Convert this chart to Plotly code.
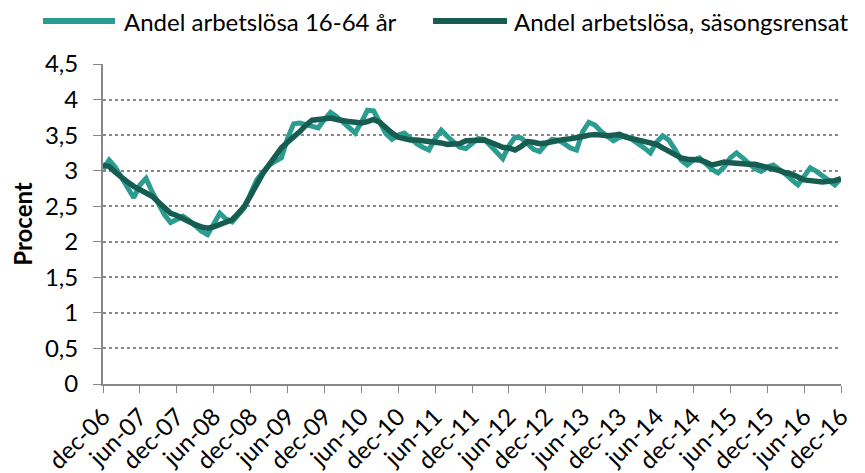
import plotly.graph_objects as go

# Monthly data dec-06 .. dec-16 (index 0..120)
raw_share = [
    3.02, 3.15, 3.05, 2.90, 2.75, 2.62, 2.80, 2.89, 2.70, 2.52,
    2.38, 2.27, 2.32, 2.36, 2.30, 2.22, 2.15, 2.10, 2.25, 2.40,
    2.32, 2.28, 2.38, 2.48, 2.68, 2.87, 2.98, 3.08, 3.13, 3.18,
    3.45, 3.66, 3.67, 3.65, 3.62, 3.60, 3.72, 3.82, 3.76, 3.69,
    3.60, 3.53, 3.68, 3.85, 3.84, 3.68, 3.52, 3.44, 3.50, 3.53,
    3.45, 3.38, 3.33, 3.29, 3.45, 3.57, 3.48, 3.40, 3.33, 3.31,
    3.38, 3.45, 3.44, 3.35, 3.25, 3.17, 3.35, 3.47, 3.46, 3.38,
    3.30, 3.27, 3.37, 3.44, 3.43, 3.38, 3.32, 3.29, 3.55, 3.68,
    3.64, 3.55, 3.48, 3.42, 3.47, 3.49, 3.44, 3.39, 3.32, 3.25,
    3.40, 3.49, 3.43, 3.30, 3.15, 3.08, 3.15, 3.18, 3.10, 3.02,
    2.97, 3.05, 3.18, 3.25, 3.18, 3.10, 3.03, 2.99, 3.05, 3.08,
    3.02, 2.95, 2.87, 2.80, 2.92, 3.04, 2.99, 2.92, 2.85, 2.80,
    2.89,
]
sa_share = [
    3.08, 3.06, 2.98, 2.90, 2.84, 2.78, 2.73, 2.70, 2.64, 2.56,
    2.48, 2.40, 2.37, 2.32, 2.27, 2.24, 2.21, 2.19, 2.21, 2.24,
    2.27, 2.31, 2.40, 2.50, 2.65, 2.82, 2.96, 3.08, 3.20, 3.32,
    3.40, 3.47, 3.55, 3.64, 3.71, 3.72, 3.73, 3.74, 3.72, 3.70,
    3.69, 3.68, 3.67, 3.69, 3.72, 3.68, 3.60, 3.53, 3.47, 3.44,
    3.43, 3.43, 3.42, 3.42, 3.41, 3.39, 3.37, 3.37, 3.38, 3.42,
    3.42, 3.43, 3.43, 3.40, 3.36, 3.33, 3.32, 3.29, 3.34, 3.41,
    3.40, 3.38, 3.39, 3.41, 3.43, 3.44, 3.45, 3.46, 3.48, 3.50,
    3.51, 3.50, 3.49, 3.50, 3.51, 3.47, 3.45, 3.44, 3.42, 3.40,
    3.37, 3.32, 3.27, 3.22, 3.18, 3.16, 3.15, 3.15, 3.12, 3.08,
    3.10, 3.12, 3.11, 3.10, 3.09, 3.09, 3.09, 3.07, 3.04, 3.03,
    3.00, 2.97, 2.95, 2.91, 2.87, 2.86, 2.85, 2.84, 2.85, 2.86,
    2.89,
]
series_names = ["Andel arbetslösa 16-64 år", "Andel arbetslösa, säsongsrensat"]
tick_labels = ["dec-06", "jun-07", "dec-07", "jun-08", "dec-08", "jun-09", "dec-09",
               "jun-10", "dec-10", "jun-11", "dec-11", "jun-12", "dec-12", "jun-13",
               "dec-13", "jun-14", "dec-14", "jun-15", "dec-15", "jun-16", "dec-16"]
y_tick_vals = [0, 0.5, 1, 1.5, 2, 2.5, 3, 3.5, 4, 4.5]
y_tick_text = ["0", "0,5", "1", "1,5", "2", "2,5", "3", "3,5", "4", "4,5"]

months = list(range(len(raw_share)))
tick_vals = list(range(0, len(raw_share), 6))

FONT = "Lato, sans-serif"
FS = 24
COLORS = ["#2A9D90", "#175C50"]
WIDTHS = [5, 5.5]

fig = go.Figure()
fig.add_trace(go.Scatter(x=months, y=raw_share, mode="lines", name=series_names[0],
                         line=dict(color=COLORS[0], width=WIDTHS[0]), showlegend=False))
fig.add_trace(go.Scatter(x=months, y=sa_share, mode="lines", name=series_names[1],
                         line=dict(color=COLORS[1], width=WIDTHS[1]), showlegend=False))

# Legend drawn as line samples + text (paper coordinates above the plot)
legend_y = 1.134
legend_items = [(-0.0813, 0.0163, 0.0257), (0.4472, 0.5474, 0.5542)]
for (x0, x1, xt), name, col in zip(legend_items, series_names, COLORS):
    fig.add_shape(type="line", xref="paper", yref="paper", x0=x0, x1=x1,
                  y0=legend_y, y1=legend_y, line=dict(color=col, width=6))
    fig.add_annotation(xref="paper", yref="paper", x=xt, y=legend_y, text=name,
                       showarrow=False, xanchor="left", yanchor="middle",
                       font=dict(family=FONT, size=FS, color="#000"))

fig.update_layout(
    width=865, height=473,
    margin=dict(l=95, r=32, t=56, b=97, autoexpand=False),
    paper_bgcolor="white", plot_bgcolor="white",
    font=dict(family=FONT, size=FS, color="#000"),
    showlegend=False,
)
fig.update_xaxes(
    range=[0, 120], tickmode="array", tickvals=tick_vals, ticktext=tick_labels,
    tickangle=-45, ticks="outside", ticklen=7, tickcolor="#888",
    showline=True, linecolor="#888", linewidth=2, showgrid=False, zeroline=False,
    tickfont=dict(size=FS),
)
fig.update_yaxes(
    range=[0, 4.5], tickmode="array", tickvals=y_tick_vals, ticktext=y_tick_text,
    ticks="outside", ticklen=8, tickcolor="#888", ticklabelstandoff=10,
    showline=True, linecolor="#888", linewidth=2,
    showgrid=True, gridcolor="#888", gridwidth=2, griddash="dot", zeroline=False,
    title=dict(text="<b>Procent</b>", font=dict(size=FS), standoff=8),
    tickfont=dict(size=FS),
)

fig.write_html("out.html")
